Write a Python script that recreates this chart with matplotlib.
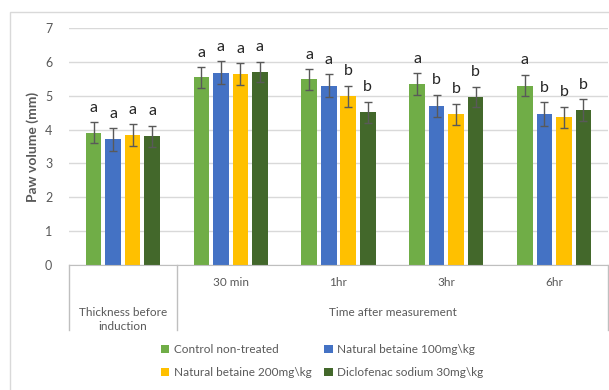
import matplotlib
matplotlib.use("Agg")
import matplotlib.pyplot as plt
from matplotlib.patches import Rectangle, Patch
from matplotlib.transforms import blended_transform_factory
import numpy as np

plt.rcParams['font.family'] = ['Lato', 'DejaVu Sans']

categories = ["", "30 min", "1hr", "3hr", "6hr"]
outer_labels = ["Thickness before\ninduction", "Time after measurement"]
series_names = ["Control non-treated", "Natural betaine 100mg\\kg",
                "Natural betaine 200mg\\kg", "Diclofenac sodium 30mg\\kg"]
colors = ["#70AD47", "#4472C4", "#FFC000", "#43682B"]

control = [3.90, 5.54, 5.48, 5.34, 5.30]
betaine100 = [3.71, 5.68, 5.29, 4.70, 4.45]
betaine200 = [3.83, 5.64, 4.98, 4.45, 4.36]
diclofenac = [3.81, 5.70, 4.51, 4.96, 4.58]

err_control = [0.31, 0.31, 0.30, 0.32, 0.32]
err_b100 = [0.33, 0.34, 0.34, 0.33, 0.35]
err_b200 = [0.32, 0.32, 0.31, 0.31, 0.31]
err_dic = [0.31, 0.30, 0.31, 0.30, 0.32]

letters_control = ["a", "a", "a", "a", "a"]
letters_b100 = ["a", "a", "a", "b", "b"]
letters_b200 = ["a", "a", "b", "b", "b"]
letters_dic = ["a", "a", "b", "b", "b"]

values = [control, betaine100, betaine200, diclofenac]
errors = [err_control, err_b100, err_b200, err_dic]
letters = [letters_control, letters_b100, letters_b200, letters_dic]

W, H = 609, 390
fig = plt.figure(figsize=(W / 100, H / 100), dpi=100)
ax = fig.add_axes([69 / W, 125 / H, (608 - 69) / W, 237 / H])

x = np.arange(len(categories))
step = 0.181
width = 0.145
gray = "#595959"
for i, (vals, errs, lets, col, name) in enumerate(zip(values, errors, letters, colors, series_names)):
    pos = x + (i - 1.5) * step
    ax.bar(pos, vals, width=width, color=col, label=name, zorder=2)
    ax.errorbar(pos, vals, yerr=errs, fmt='none', ecolor=gray, elinewidth=1,
                capsize=3, capthick=1, zorder=3)
    for px, v, e, l in zip(pos, vals, errs, lets):
        ax.annotate(l, (px, v + e), xytext=(0, 7.5), textcoords='offset points',
                    ha='center', va='baseline', fontsize=11.5, color="#262626")

ax.set_xlim(-0.5, 4.5)
ax.set_ylim(0, 7)
ax.set_yticks(range(0, 8))
ax.yaxis.grid(True, color="#D9D9D9", linewidth=1, zorder=0)
ax.set_axisbelow(True)
for s in ["left", "right", "top"]:
    ax.spines[s].set_visible(False)
ax.spines["bottom"].set_color("#BFBFBF")
ax.tick_params(axis='y', length=0, pad=12, labelsize=9, labelcolor=gray)
ax.set_xticks(x)
ax.set_xticklabels(categories)
ax.tick_params(axis='x', length=0, pad=9, labelsize=8.5, labelcolor=gray)
ax.set_ylabel("Paw volume (mm)", fontsize=10, fontweight='bold', color=gray, labelpad=4)

trans = blended_transform_factory(ax.transData, ax.transAxes)
drop = -65 / 237
for xv in [-0.5, 0.5, 4.5]:
    ax.plot([xv, xv], [0, drop], transform=trans, color="#BFBFBF", lw=1, clip_on=False)
ax.text(0, -42 / 237, outer_labels[0], transform=trans, ha='center', va='top',
        fontsize=8.5, color=gray, linespacing=1.35)
ax.text(2.5, -42 / 237, outer_labels[1], transform=trans, ha='center', va='top',
        fontsize=8.5, color=gray)

fig.patches.append(Rectangle((10 / W, -0.1), 1.2, 1 - 12 / H + 0.1, transform=fig.transFigure,
                             facecolor='none', edgecolor="#D9D9D9", lw=1))

order = [0, 2, 1, 3]
handles = [Patch(facecolor=colors[k], edgecolor='none') for k in order]
labels = [series_names[k] for k in order]
fig.legend(handles, labels, ncol=2, loc='center', bbox_to_anchor=(322 / W, 1 - 361 / H),
           frameon=False, fontsize=8.5, handlelength=0.7, handleheight=0.7,
           handletextpad=0.35, columnspacing=1.1, labelspacing=1.0, labelcolor=gray)

fig.savefig("out.png", dpi=100)
